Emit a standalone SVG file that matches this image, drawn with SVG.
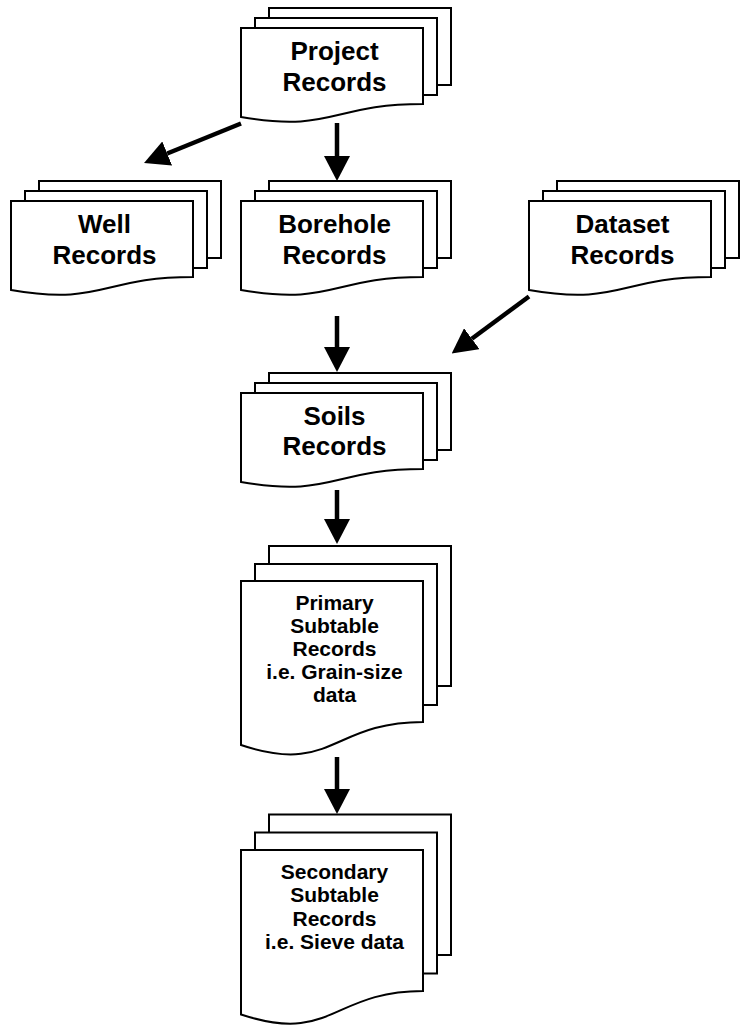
<svg xmlns="http://www.w3.org/2000/svg" width="740" height="1030" viewBox="0 0 740 1030">
<style>
.sheet{fill:#fff;stroke:#000;stroke-width:2;stroke-linejoin:miter}
.big{font-family:"Liberation Sans",Arial,sans-serif;font-weight:bold;font-size:26px;text-anchor:middle;fill:#000}
.small{font-family:"Liberation Sans",Arial,sans-serif;font-weight:bold;font-size:21px;text-anchor:middle;fill:#000}
.arrow{stroke:#000;stroke-width:4.5;fill:none;marker-end:url(#ah)}
</style>
<defs>
<marker id="ah" viewBox="0 0 25 26" refX="0" refY="13" markerWidth="25" markerHeight="26" markerUnits="userSpaceOnUse" orient="auto">
<path d="M0,0 L25,13 L0,26 Z" fill="#000"/>
</marker>
</defs>
<rect width="740" height="1030" fill="#fff"/>

<g id="project">
<rect class="sheet" x="269" y="8" width="182" height="77"/>
<rect class="sheet" x="255" y="18" width="182" height="77"/>
<path class="sheet" d="M241,28 H423 V104 C332,104 332,133 241,117 Z"/>
<text class="big" x="334.5" y="60">Project</text>
<text class="big" x="334.5" y="90.5">Records</text>
</g>

<g id="well">
<rect class="sheet" x="39" y="181" width="182" height="77"/>
<rect class="sheet" x="25" y="191" width="182" height="77"/>
<path class="sheet" d="M11,201 H193 V277 C102,277 102,306 11,290 Z"/>
<text class="big" x="104.5" y="233">Well</text>
<text class="big" x="104.5" y="263.5">Records</text>
</g>

<g id="borehole">
<rect class="sheet" x="269" y="181" width="182" height="77"/>
<rect class="sheet" x="255" y="191" width="182" height="77"/>
<path class="sheet" d="M241,201 H423 V277 C332,277 332,306 241,290 Z"/>
<text class="big" x="334.5" y="233">Borehole</text>
<text class="big" x="334.5" y="263.5">Records</text>
</g>

<g id="dataset">
<rect class="sheet" x="557" y="181" width="182" height="77"/>
<rect class="sheet" x="543" y="191" width="182" height="77"/>
<path class="sheet" d="M529,201 H711 V277 C620,277 620,306 529,290 Z"/>
<text class="big" x="622.5" y="233">Dataset</text>
<text class="big" x="622.5" y="263.5">Records</text>
</g>

<g id="soils">
<rect class="sheet" x="269" y="373" width="182" height="77"/>
<rect class="sheet" x="255" y="383" width="182" height="77"/>
<path class="sheet" d="M241,393 H423 V469 C332,469 332,498 241,482 Z"/>
<text class="big" x="334.5" y="424.5">Soils</text>
<text class="big" x="334.5" y="455">Records</text>
</g>

<g id="primary">
<rect class="sheet" x="269" y="546" width="182" height="140"/>
<rect class="sheet" x="255" y="564" width="182" height="141"/>
<path class="sheet" d="M241,581 H423 V722 C332,722 332,775.6 241,745 Z"/>
<text class="small" x="334.5" y="610">Primary</text>
<text class="small" x="334.5" y="633">Subtable</text>
<text class="small" x="334.5" y="656">Records</text>
<text class="small" x="334.5" y="679">i.e. Grain-size</text>
<text class="small" x="334.5" y="702">data</text>
</g>

<g id="secondary">
<rect class="sheet" x="269" y="814.5" width="182" height="140.5"/>
<rect class="sheet" x="255" y="832.5" width="182" height="141"/>
<path class="sheet" d="M241,850 H423 V991 C332,991 332,1044.6 241,1014.5 Z"/>
<text class="small" x="334.5" y="878.5">Secondary</text>
<text class="small" x="334.5" y="902">Subtable</text>
<text class="small" x="334.5" y="925.5">Records</text>
<text class="small" x="334.5" y="949">i.e. Sieve data</text>
</g>

<g id="connectors">
<line class="arrow" x1="241" y1="123.5" x2="167.2" y2="153.5"/>
<line class="arrow" x1="337" y1="123" x2="337" y2="156"/>
<line class="arrow" x1="337" y1="316" x2="337" y2="347"/>
<line class="arrow" x1="529" y1="296.5" x2="471.8" y2="338.7"/>
<line class="arrow" x1="337" y1="490" x2="337" y2="519"/>
<line class="arrow" x1="337" y1="757" x2="337" y2="789"/>
</g>
</svg>
